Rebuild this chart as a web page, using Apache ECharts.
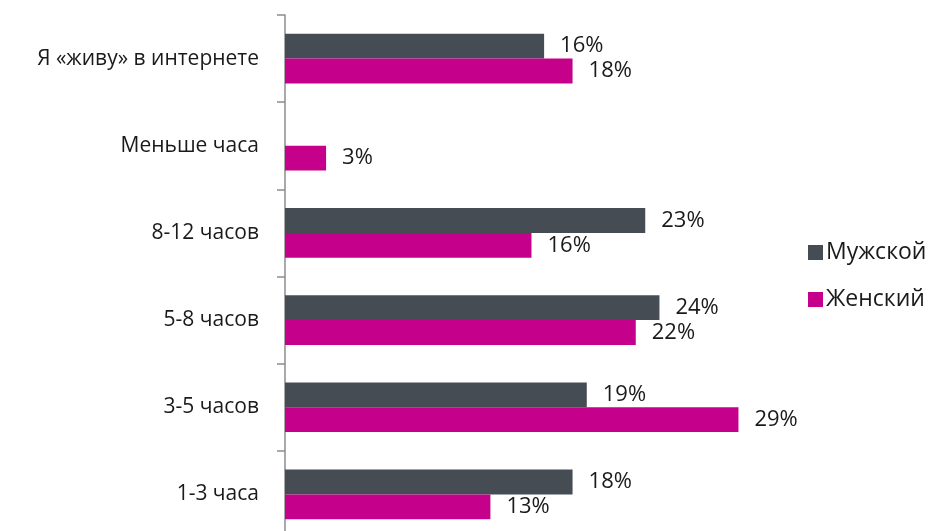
<!DOCTYPE html>
<html>
<head>
<meta charset="utf-8">
<script src="https://cdn.jsdelivr.net/npm/echarts@6/dist/echarts.min.js"></script>
<style>
  html, body { margin: 0; padding: 0; background: #fff; }
  #chart { width: 931px; height: 531px; }
</style>
</head>
<body>
<div id="chart"></div>
<script>
// categories listed top to bottom
const categories = ['Я «живу» в интернете', 'Меньше часа', '8-12 часов', '5-8 часов', '3-5 часов', '1-3 часа']
const seriesNames = ['Мужской', 'Женский']
const maleValues = [16.4, null, 22.8, 23.7, 19.1, 18.2]
const femaleValues = [18.2, 2.6, 15.6, 22.2, 28.7, 13.0]

const chart = echarts.init(document.getElementById('chart'))

const fontFamily = '"Open Sans", "Noto Sans", sans-serif'

const barLabel = {
  show: true,
  position: 'right',
  distance: 16,
  color: '#1a1a1a',
  fontSize: 22,
  fontFamily: fontFamily,
  formatter: p => Math.round(p.value) + '%'
}

const option = {
  animation: false,
  grid: {
    left: 285,
    top: 15,
    width: 632,
    height: 523,
    outerBoundsMode: 'none'
  },
  legend: {
    orient: 'vertical',
    left: 803,
    top: 236,
    itemWidth: 15,
    itemHeight: 15,
    itemGap: 24,
    icon: 'rect',
    textStyle: { color: '#1a1a1a', fontSize: 23, fontFamily: fontFamily, padding: [0, 0, 0, -2] },
    data: seriesNames
  },
  xAxis: {
    type: 'value',
    min: 0,
    max: 40,
    show: false
  },
  yAxis: {
    type: 'category',
    inverse: true,
    data: categories,
    axisLine: { show: true, lineStyle: { color: '#8c8c8c', width: 1.5 } },
    axisTick: { show: true, length: 8, lineStyle: { color: '#8c8c8c', width: 1.5 } },
    axisLabel: { color: '#1a1a1a', fontSize: 21, fontFamily: fontFamily, margin: 26 }
  },
  series: [
    {
      name: seriesNames[0],
      type: 'bar',
      data: maleValues,
      barCategoryGap: '43%',
      barGap: '0%',
      itemStyle: { color: '#454c54' },
      label: barLabel
    },
    {
      name: seriesNames[1],
      type: 'bar',
      data: femaleValues,
      barCategoryGap: '43%',
      barGap: '0%',
      itemStyle: { color: '#c5008b' },
      label: barLabel
    }
  ]
}

chart.setOption(option)
</script>
</body>
</html>
